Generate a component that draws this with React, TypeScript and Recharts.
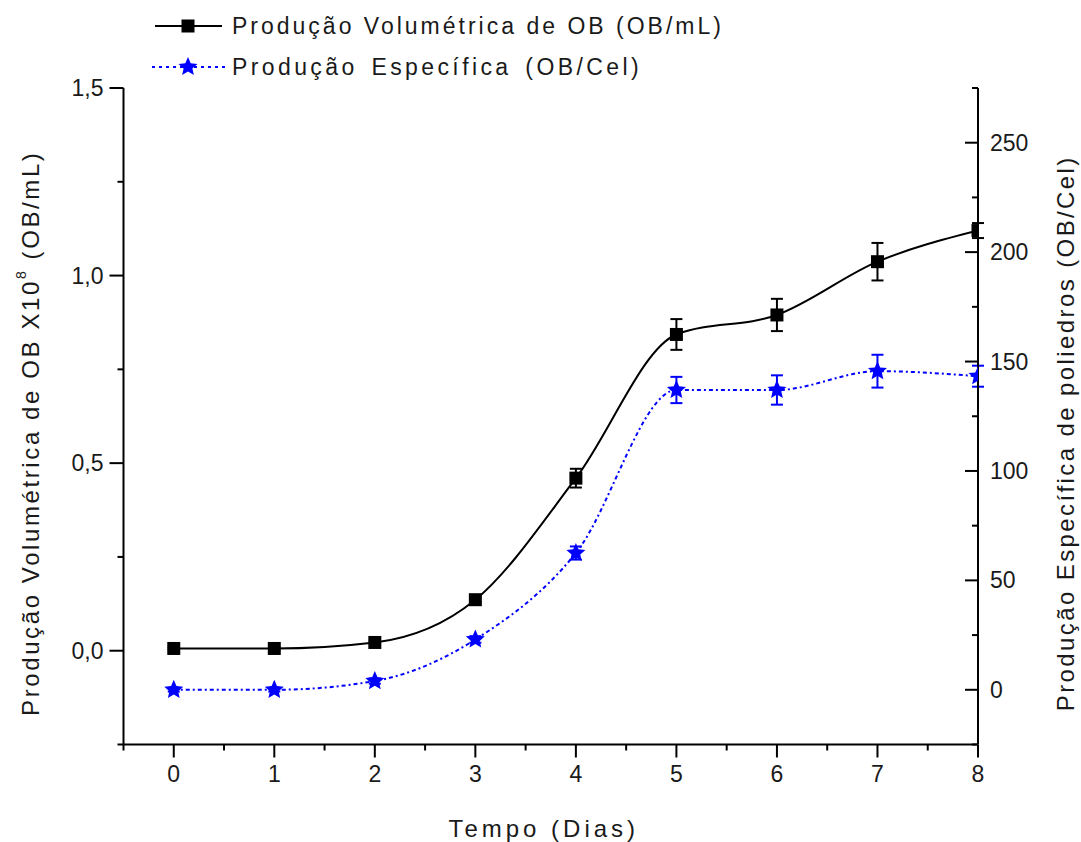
import React from "react";
import {
  ComposedChart,
  Line,
  XAxis,
  YAxis,
  ErrorBar,
  Legend,
  Label,
} from "recharts";

// ---------- data ----------
const days = [0, 1, 2, 3, 4, 5, 6, 7, 8];
const volumetric = [0.006, 0.006, 0.022, 0.136, 0.46, 0.843, 0.895, 1.037, 1.12];
const volumetricErr = [0.003, 0.003, 0.004, 0.006, 0.025, 0.041, 0.043, 0.05, 0.02];
const specific = [0, 0, 4, 23, 62.5, 137, 137, 145.6, 143.3];
const specificErr = [0.8, 0.8, 1.2, 1.5, 3, 6, 6.7, 7.5, 4.8];

const xTicks = [-0.5, 0, 0.5, 1, 1.5, 2, 2.5, 3, 3.5, 4, 4.5, 5, 5.5, 6, 6.5, 7, 7.5, 8];
const leftTicks = [-0.25, 0, 0.25, 0.5, 0.75, 1, 1.25, 1.5];
const rightTicks = [-25, 0, 25, 50, 75, 100, 125, 150, 175, 200, 225, 250, 275];

const seriesNames = [
  "Produção Volumétrica de OB (OB/mL)",
  "Produção Específica (OB/Cel)",
];
const xLabel = "Tempo (Dias)";
const leftLabelMain = "Produção Volumétrica de OB X10";
const leftLabelSup = "8";
const leftLabelTail = " (OB/mL)";
const rightLabel = "Produção Específica de poliedros (OB/Cel)";

const data = days.map((d, i) => ({
  day: d,
  vol: volumetric[i],
  volErr: volumetricErr[i],
  spec: specific[i],
  specErr: specificErr[i],
}));

// ---------- styling ----------
const FONT = "'Liberation Sans', Arial, sans-serif";
const TEXT = "#1a1a1a";
const BLUE = "#0000ff";

const isMultiple = (v: number, step: number) =>
  Math.abs(v / step - Math.round(v / step)) < 1e-6;

const fmtComma = (v: number) => v.toFixed(1).replace(".", ",");

const starPoints = (cx: number, cy: number, R: number, r: number) => {
  const pts: string[] = [];
  for (let i = 0; i < 10; i++) {
    const ang = -Math.PI / 2 + (i * Math.PI) / 5;
    const rad = i % 2 === 0 ? R : r;
    pts.push(`${cx + rad * Math.cos(ang)},${cy + rad * Math.sin(ang)}`);
  }
  return pts.join(" ");
};

const SquareDot = (props: any) => {
  const { cx, cy, index } = props;
  if (cx == null || cy == null) return <g key={`sq-${index}`} />;
  return <rect key={`sq-${index}`} x={cx - 6.5} y={cy - 6.5} width={13} height={13} fill="#000" />;
};

const StarDot = (props: any) => {
  const { cx, cy, index } = props;
  if (cx == null || cy == null) return <g key={`st-${index}`} />;
  return <polygon key={`st-${index}`} points={starPoints(cx, cy, 10, 4.6)} fill={BLUE} />;
};

const LeftTick = (props: any) => {
  const { x, y, payload } = props;
  const v = payload.value as number;
  const major = isMultiple(v, 0.5);
  const len = major ? 14 : 6;
  return (
    <g>
      <line x1={x} x2={x - len} y1={y} y2={y} stroke="#000" strokeWidth={2} />
      {major && (
        <text x={x - 20} y={y + 8} textAnchor="end" fontFamily={FONT} fontSize={23} fill={TEXT}>
          {fmtComma(v)}
        </text>
      )}
    </g>
  );
};

const RightTick = (props: any) => {
  const { x, y, payload } = props;
  const v = payload.value as number;
  const major = isMultiple(v, 50);
  const len = major ? 13 : 6;
  return (
    <g>
      <line x1={x} x2={x - len} y1={y} y2={y} stroke="#000" strokeWidth={2} />
      {major && (
        <text x={x + 12} y={y + 8} textAnchor="start" fontFamily={FONT} fontSize={23} fill={TEXT}>
          {String(v)}
        </text>
      )}
    </g>
  );
};

const BottomTick = (props: any) => {
  const { x, y, payload } = props;
  const v = payload.value as number;
  const major = isMultiple(v, 1);
  const len = major ? 13 : 6;
  return (
    <g>
      <line x1={x} x2={x} y1={y} y2={y + len} stroke="#000" strokeWidth={2} />
      {major && (
        <text x={x} y={y + 37} textAnchor="middle" fontFamily={FONT} fontSize={23} fill={TEXT}>
          {String(v)}
        </text>
      )}
    </g>
  );
};

const LegendContent = () => (
  <svg width={640} height={90} style={{ display: "block" }}>
    <line x1={5} x2={72} y1={21} y2={21} stroke="#000" strokeWidth={2} />
    <rect x={31.5} y={14.5} width={13} height={13} fill="#000" />
    <text x={82} y={29} fontFamily={FONT} fontSize={23} letterSpacing={3} fill={TEXT}>
      {seriesNames[0]}
    </text>
    <line x1={2} x2={75} y1={62} y2={62} stroke={BLUE} strokeWidth={2} strokeDasharray="3 4" />
    <polygon points={starPoints(38, 62, 10, 4.6)} fill={BLUE} />
    <text x={82} y={70} fontFamily={FONT} fontSize={23} letterSpacing={3.4} wordSpacing={4} fill={TEXT}>
      {seriesNames[1]}
    </text>
  </svg>
);

const LeftLabel = (props: any) => {
  const vb = props.viewBox || {};
  const cx = (vb.x ?? 122) + (vb.width ?? 1) - 91;
  const cy = (vb.y ?? 88) + (vb.height ?? 656) / 2 + 17;
  return (
    <text
      x={cx}
      y={cy}
      transform={`rotate(-90 ${cx} ${cy})`}
      textAnchor="middle"
      dominantBaseline="middle"
      fontFamily={FONT}
      fontSize={24}
      letterSpacing={2.6}
      fill={TEXT}
    >
      {leftLabelMain}
      <tspan fontSize={14} dy={-11}>
        {leftLabelSup}
      </tspan>
      <tspan dy={11}>{leftLabelTail}</tspan>
    </text>
  );
};

const RightLabel = (props: any) => {
  const vb = props.viewBox || {};
  const cx = (vb.x ?? 978) + 90;
  const cy = (vb.y ?? 88) + (vb.height ?? 656) / 2 + 17;
  return (
    <text
      x={cx}
      y={cy}
      transform={`rotate(-90 ${cx} ${cy})`}
      textAnchor="middle"
      dominantBaseline="middle"
      fontFamily={FONT}
      fontSize={24}
      letterSpacing={2.4}
      fill={TEXT}
    >
      {rightLabel}
    </text>
  );
};

const BottomLabel = (props: any) => {
  const vb = props.viewBox || {};
  const cx = (vb.x ?? 123) + (vb.width ?? 855) / 2 - 7;
  const cy = (vb.y ?? 744) + 92;
  return (
    <text x={cx} y={cy} textAnchor="middle" fontFamily={FONT} fontSize={24} letterSpacing={4} fill={TEXT}>
      {xLabel}
    </text>
  );
};

export default function App() {
  return (
    <div style={{ position: "absolute", left: 0, top: 0, background: "#fff" }}>
      <ComposedChart
        width={1081}
        height={842}
        data={data}
        margin={{ top: 88, right: 102, bottom: 96.5, left: 122.5 }}
      >
        <XAxis
          dataKey="day"
          type="number"
          domain={[-0.5, 8]}
          ticks={xTicks}
          interval={0}
          allowDataOverflow
          height={1}
          tickSize={0}
          tickMargin={0}
          tickLine={false}
          axisLine={{ stroke: "#000", strokeWidth: 2 }}
          tick={<BottomTick />}
        >
          <Label content={<BottomLabel />} />
        </XAxis>
        <YAxis
          yAxisId="left"
          orientation="left"
          type="number"
          domain={[-0.25, 1.5]}
          ticks={leftTicks}
          interval={0}
          allowDataOverflow
          width={1}
          tickSize={0}
          tickMargin={0}
          tickLine={false}
          axisLine={{ stroke: "#000", strokeWidth: 2 }}
          tick={<LeftTick />}
        >
          <Label content={<LeftLabel />} />
        </YAxis>
        <YAxis
          yAxisId="right"
          orientation="right"
          type="number"
          domain={[-25, 275]}
          ticks={rightTicks}
          interval={0}
          allowDataOverflow
          width={1}
          tickSize={0}
          tickMargin={0}
          tickLine={false}
          axisLine={{ stroke: "#000", strokeWidth: 2 }}
          tick={<RightTick />}
        >
          <Label content={<RightLabel />} />
        </YAxis>
        <Legend
          layout="vertical"
          align="center"
          verticalAlign="middle"
          wrapperStyle={{ top: 5, left: 150, width: 640, height: 90 }}
          content={<LegendContent />}
        />
        <Line
          yAxisId="left"
          dataKey="vol"
          name={seriesNames[0]}
          type="monotone"
          stroke="#000"
          strokeWidth={2}
          dot={<SquareDot />}
          activeDot={false}
          isAnimationActive={false}
        >
          <ErrorBar dataKey="volErr" width={6} stroke="#000" strokeWidth={2} direction="y" />
        </Line>
        <Line
          yAxisId="right"
          dataKey="spec"
          name={seriesNames[1]}
          type="monotone"
          stroke={BLUE}
          strokeWidth={2}
          strokeDasharray="4 3 2 3"
          dot={<StarDot />}
          activeDot={false}
          isAnimationActive={false}
        >
          <ErrorBar dataKey="specErr" width={6} stroke={BLUE} strokeWidth={2} direction="y" />
        </Line>
      </ComposedChart>
    </div>
  );
}
